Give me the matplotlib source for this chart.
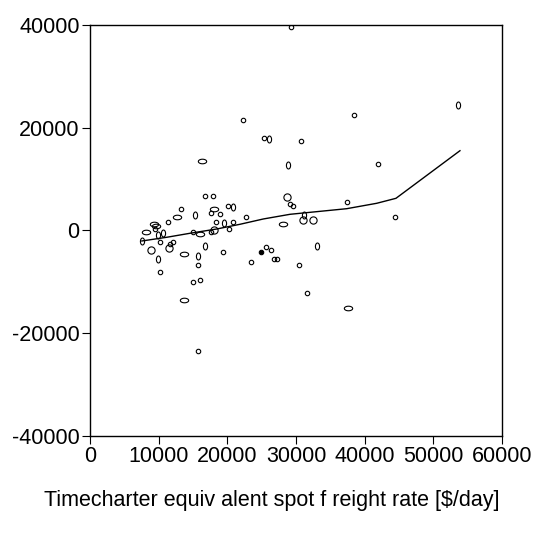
import numpy as np
import matplotlib
matplotlib.use('Agg')
import matplotlib.pyplot as plt
from matplotlib.path import Path

plt.rcParams['font.family'] = ['Liberation Sans', 'DejaVu Sans']
plt.rcParams['axes.unicode_minus'] = False

# scatter data (x = freight rate, y = residual), shape code per point
# c = small circle, t = tall ellipse, w = wide ellipse, C = bigger circle, f = filled dot
pts_x = [22300, 25300, 26100, 16300, 28900, 16800, 17900, 28700, 29100, 29600,
         13200, 18100, 20100, 20900, 12700, 15300, 17600, 19000, 22700, 29300,
         38500, 30800, 41900, 53600, 37400, 44400, 31200, 31000, 32500, 28150,
         33100, 30400, 31600, 37600, 11300, 9300, 9500, 8150, 9850, 10600,
         7550, 10150, 8900, 11500, 11650, 12050, 9850, 10150, 13750, 15700,
         15700, 16800, 14950, 16000, 17600, 18100, 18300, 19500, 20900, 20200,
         19400, 23450, 24950, 25700, 26400, 26800, 27200, 14950, 16050, 13750,
         15700, 9600]
pts_y = [21400, 18000, 17700, 13500, 12800, 6600, 6600, 6400, 5100, 4700,
         4150, 4150, 4700, 4500, 2650, 2900, 3300, 3250, 2650, 39600,
         22400, 17400, 13000, 24400, 5500, 2650, 3000, 1950, 1950, 1200,
         -3050, -6700, -12100, -15050, 1600, 1200, 250, -300, -950, -600,
         -2050, -2250, -3900, -3500, -2700, -2250, -5500, -8100, -4650, -5000,
         -6700, -3050, -400, -750, -300, 50, 1600, 1350, 1600, 200,
         -4150, -6150, -4200, -3250, -3800, -5650, -5650, -10100, -9600, -13500,
         -23450, 800]
pts_kind = ['c', 'c', 't', 'w', 't', 'c', 'c', 'C', 'c', 'c',
            'c', 'w', 'c', 't', 'w', 't', 'c', 'c', 'c', 'c',
            'c', 'c', 'c', 't', 'c', 'c', 't', 'C', 'C', 'w',
            't', 'c', 'c', 'w', 'c', 'w', 'c', 'w', 't', 't',
            't', 'c', 'C', 'C', 'c', 'c', 't', 'c', 'w', 't',
            'c', 't', 'c', 'w', 'c', 'C', 'c', 't', 'c', 'c',
            'c', 'c', 'f', 'c', 'c', 'c', 'c', 'c', 'c', 'w',
            'c', 'w']

# fitted curve
fit_x = [7550, 11170, 14560, 18450, 21850, 25240, 29130, 37380, 41750, 44560, 53880]
fit_y = [-2070, -1350, -570, 260, 1180, 2210, 3120, 4210, 5260, 6230, 15490]

xticks = [0, 10000, 20000, 30000, 40000, 50000, 60000]
yticks = [-40000, -20000, 0, 20000, 40000]


def ellipse(wx, hy):
    t = np.linspace(0, 2 * np.pi, 40)
    v = np.column_stack([wx * np.cos(t), hy * np.sin(t)])
    return Path(v, closed=True)


styles = {
    'c': dict(marker='o', ms=3.2, mfc='none'),
    't': dict(marker=ellipse(0.6, 1.0), ms=5.0, mfc='none'),
    'w': dict(marker=ellipse(1.0, 0.55), ms=6.0, mfc='none'),
    'C': dict(marker='o', ms=5.2, mfc='none'),
    'f': dict(marker='o', ms=3.2, mfc='black'),
}

fig = plt.figure(figsize=(5.47, 5.38), dpi=100)
ax = fig.add_axes([0.1645, 0.1896, 0.7532, 0.7645])

ax.plot(fit_x, fit_y, color='black', lw=1.0, zorder=2)

kinds = np.array(pts_kind)
px = np.array(pts_x)
py = np.array(pts_y)
for k, st in styles.items():
    m = kinds == k
    ax.plot(px[m], py[m], linestyle='none', mec='black', mew=0.8, zorder=3, **st)

ax.set_xlim(0, 60000)
ax.set_ylim(-40000, 40000)
ax.set_xticks(xticks)
ax.set_yticks(yticks)
ax.tick_params(direction='out', length=5.5, width=0.8, labelsize=15.5, pad=2,
               top=False, right=False)
for s in ax.spines.values():
    s.set_linewidth(1.0)

fig.text(0.497, 0.07, 'Timecharter equiv alent spot f reight rate [$/day]',
         ha='center', va='center', fontsize=15.5)

fig.savefig('out.png', dpi=100)
